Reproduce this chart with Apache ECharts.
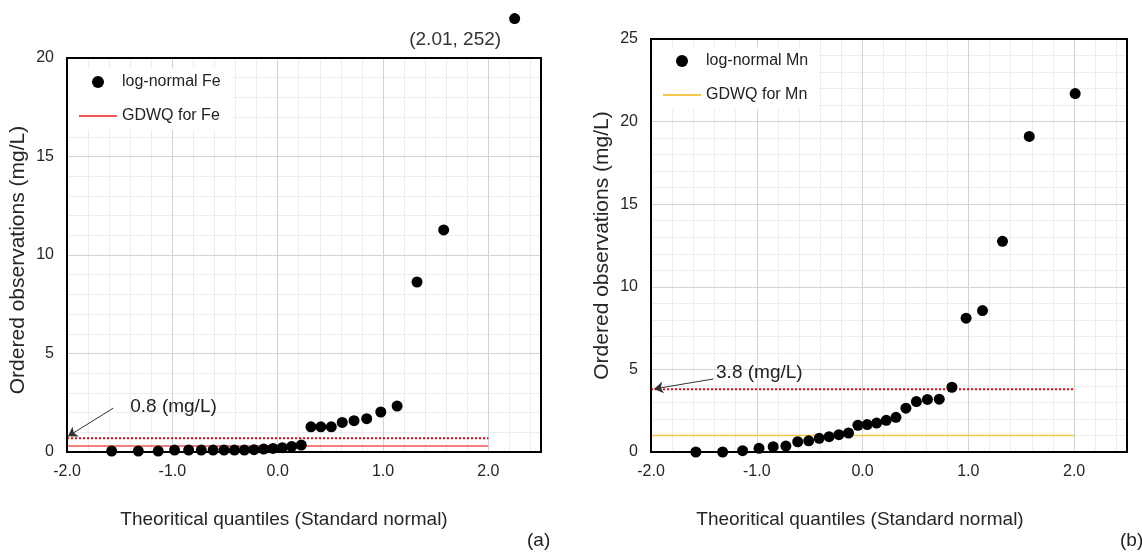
<!DOCTYPE html>
<html>
<head>
<meta charset="utf-8">
<script src="https://cdn.jsdelivr.net/npm/echarts@6/dist/echarts.min.js"></script>
<style>
  html, body { margin: 0; padding: 0; background: #fff; }
  #chart { width: 1142px; height: 556px; }
</style>
</head>
<body>
<div id="chart"></div>
<script>
// theoretical normal quantiles shared by both panels
const quantiles = [-1.576, -1.323, -1.134, -0.979, -0.845, -0.725, -0.613, -0.509, -0.410,
  -0.316, -0.224, -0.133, -0.044, 0.044, 0.133, 0.224, 0.316, 0.410, 0.509, 0.613,
  0.725, 0.845, 0.979, 1.134, 1.323, 1.576, 2.01];

// (a) Fe, the last one (2.01, 252) is off scale and drawn above the plot
const feValues = [0.05, 0.05, 0.05, 0.1, 0.1, 0.1, 0.1, 0.1, 0.1, 0.1, 0.12, 0.15, 0.18,
  0.22, 0.28, 0.35, 1.28, 1.28, 1.28, 1.5, 1.59, 1.69, 2.03, 2.33, 8.63, 11.27];
const feOutlierPos = [2.25, 22];
const feOutlierLabel = '(2.01, 252)';
const feGdwq = 0.3;
const feMark = 0.7;
const feMarkLabel = '0.8 (mg/L)';

// (b) Mn
const mnValues = [0, 0, 0.08, 0.22, 0.32, 0.36, 0.62, 0.68, 0.83, 0.93, 1.05, 1.15, 1.62,
  1.66, 1.75, 1.92, 2.1, 2.65, 3.05, 3.18, 3.2, 3.92, 8.1, 8.56, 12.75, 19.1, 21.7];
const mnGdwq = 1.0;
const mnMark = 3.8;
const mnMarkLabel = '3.8 (mg/L)';

const lineRange = [-2, 2];
const xTitle = 'Theoritical quantiles (Standard normal)';
const yTitle = 'Ordered observations (mg/L)';

const FONT = '"Liberation Sans", Arial, sans-serif';
const TXT = '#262626';

const chart = echarts.init(document.getElementById('chart'));

function majorX(grid, shift) {
  return {
    gridIndex: grid, type: 'value', min: -2, max: 2.5, interval: 1, z: 2,
    name: xTitle, nameLocation: 'middle', nameGap: 58,
    nameTextStyle: { fontFamily: FONT, fontSize: 19, color: TXT, padding: [0, shift, 0, 0] },
    axisLine: { show: true, onZero: false, lineStyle: { color: '#000', width: 2 } },
    axisTick: { show: false },
    axisLabel: { fontFamily: FONT, fontSize: 16, color: TXT, margin: 12, showMaxLabel: false,
      formatter: v => v.toFixed(1) },
    splitLine: { show: true, lineStyle: { color: '#d3d3d3', width: 1 } }
  };
}
function minorX(grid) {
  return {
    gridIndex: grid, type: 'value', min: -2, max: 2.5, interval: 0.2, z: 1,
    axisLine: { show: false }, axisTick: { show: false }, axisLabel: { show: false },
    splitLine: { show: true, lineStyle: { color: '#ededed', width: 1 } }
  };
}
function majorY(grid, max, pad) {
  return {
    gridIndex: grid, type: 'value', min: 0, max: max, interval: 5, z: 2,
    name: yTitle, nameLocation: 'middle', nameGap: 38,
    nameTextStyle: { fontFamily: FONT, fontSize: 21, color: TXT, padding: pad },
    axisLine: { show: true, onZero: false, lineStyle: { color: '#000', width: 2 } },
    axisTick: { show: false },
    axisLabel: { fontFamily: FONT, fontSize: 16, color: TXT, margin: 13 },
    splitLine: { show: true, lineStyle: { color: '#d3d3d3', width: 1 } }
  };
}
function minorY(grid, max) {
  return {
    gridIndex: grid, type: 'value', min: 0, max: max, interval: 1, z: 1,
    axisLine: { show: false }, axisTick: { show: false }, axisLabel: { show: false },
    splitLine: { show: true, lineStyle: { color: '#ededed', width: 1 } }
  };
}

function guide(name, xi, yi, val, color, dotted) {
  return {
    name: name, type: 'line', xAxisIndex: xi, yAxisIndex: yi, z: 3,
    symbol: 'none', silent: true,
    itemStyle: { color: 'transparent' },
    lineStyle: { color: color, width: dotted ? 2 : 1.5, type: dotted ? 'dotted' : 'solid' },
    data: lineRange.map(x => [x, val])
  };
}

function arrowNote(from, to, textAt, text) {
  return {
    markLine: {
      silent: true, symbol: ['none', 'arrow'], symbolSize: 9,
      label: { show: false },
      lineStyle: { color: '#333', width: 1, type: 'solid' },
      data: [[{ coord: from }, { coord: to }]]
    },
    markPoint: {
      silent: true, symbol: 'circle', symbolSize: 0,
      data: [{
        coord: textAt,
        label: { show: true, position: 'right', distance: 0, formatter: text,
          fontFamily: FONT, fontSize: 19, color: '#222' }
      }]
    }
  };
}

const dot = { symbol: 'circle', symbolSize: 11, itemStyle: { color: '#000', opacity: 1 } };

const option = {
  animation: false,
  backgroundColor: '#fff',
  textStyle: { fontFamily: FONT },
  grid: [
    { left: 67, top: 58, width: 474, height: 394, show: true, borderColor: '#000', borderWidth: 2, z: 4, backgroundColor: 'transparent' },
    { left: 651, top: 39, width: 476, height: 413, show: true, borderColor: '#000', borderWidth: 2, z: 4, backgroundColor: 'transparent' }
  ],
  xAxis: [majorX(0, 40), minorX(0), majorX(1, 58), minorX(1)],
  yAxis: [majorY(0, 20, [0, 10, 0, 0]), minorY(0, 20), majorY(1, 25, [0, 0, 0, 0]), minorY(1, 25)],
  legend: [
    {
      left: 70, top: 68, orient: 'vertical', itemGap: 18, itemWidth: 38, itemHeight: 12,
      backgroundColor: '#fff', padding: [6, 10, 6, 8],
      textStyle: { fontFamily: FONT, fontSize: 16, color: '#222' },
      data: ['log-normal Fe', 'GDWQ for Fe']
    },
    {
      left: 654, top: 47, orient: 'vertical', itemGap: 18, itemWidth: 38, itemHeight: 12,
      backgroundColor: '#fff', padding: [6, 10, 6, 8],
      textStyle: { fontFamily: FONT, fontSize: 16, color: '#222' },
      data: ['log-normal Mn', 'GDWQ for Mn']
    }
  ],
  series: [
    guide('GDWQ for Fe', 0, 0, feGdwq, '#f25555', false),
    Object.assign(guide('Fe mark', 0, 0, feMark, '#ff0000', true),
      arrowNote([-1.56, 2.23], [-1.99, 0.8], [-1.40, 2.28], feMarkLabel)),
    Object.assign({ name: 'log-normal Fe', type: 'scatter', xAxisIndex: 0, yAxisIndex: 0, z: 5,
      data: feValues.map((v, i) => [quantiles[i], v]) }, dot),
    Object.assign({ name: 'Fe outlier', type: 'scatter', xAxisIndex: 0, yAxisIndex: 0, z: 5, clip: false,
      label: { show: true, formatter: feOutlierLabel, position: [-54, 27], align: 'center',
        verticalAlign: 'middle', fontFamily: FONT, fontSize: 19, color: '#333' },
      data: [feOutlierPos] }, dot),

    guide('GDWQ for Mn', 2, 2, mnGdwq, '#f3c84a', false),
    Object.assign(guide('Mn mark', 2, 2, mnMark, '#ff0000', true),
      arrowNote([-1.41, 4.42], [-1.97, 3.82], [-1.385, 4.79], mnMarkLabel)),
    Object.assign({ name: 'log-normal Mn', type: 'scatter', xAxisIndex: 2, yAxisIndex: 2, z: 5,
      data: mnValues.map((v, i) => [quantiles[i], v]) }, dot)
  ],
  graphic: [
    { type: 'text', left: 527, top: 531, style: { text: '(a)', font: '19px ' + FONT, fill: '#222' } },
    { type: 'text', left: 1120, top: 531, style: { text: '(b)', font: '19px ' + FONT, fill: '#222' } }
  ]
};

chart.setOption(option);
</script>
</body>
</html>
